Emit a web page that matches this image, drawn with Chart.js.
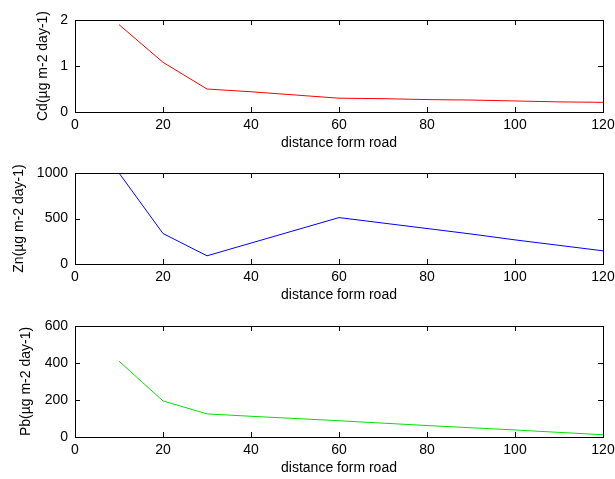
<!DOCTYPE html>
<html>
<head>
<meta charset="utf-8">
<script src="https://cdn.jsdelivr.net/npm/chart.js@4/dist/chart.umd.min.js"></script>
<style>
  html, body { margin: 0; padding: 0; background: #fff; }
  #wrap { position: relative; width: 615px; height: 479px; overflow: hidden; background: #fff; }
  .pane { position: absolute; left: 0; width: 615px; }
  canvas { display: block; }
</style>
</head>
<body>
<div id="wrap">
  <div class="pane" id="p1" style="top:0px;height:152px"><canvas id="c1"></canvas></div>
  <div class="pane" id="p2" style="top:155px;height:149px"><canvas id="c2"></canvas></div>
  <div class="pane" id="p3" style="top:304px;height:173px"><canvas id="c3"></canvas></div>
</div>
<script>
// ---- data ----
const distance = [10, 20, 30, 40, 50, 60, 70, 80, 90, 100, 110, 120];
const cdValues = [1.9, 1.08, 0.5, 0.44, 0.37, 0.3, 0.29, 0.27, 0.26, 0.24, 0.22, 0.21];
const znValues = [1000, 335, 90, 230, 370, 510, 450, 390, 330, 265, 205, 145];
const pbValues = [410, 195, 125, 112, 100, 88, 75, 62, 50, 38, 25, 12];

const xTitle = 'distance form road';
const cdTitle = 'Cd(\u00b5g m-2 day-1)';
const znTitle = 'Zn(\u00b5g m-2 day-1)';
const pbTitle = 'Pb(\u00b5g m-2 day-1)';

const xMin = 0, xMax = 120, xStep = 20;
const cdAxis = { min: 0, max: 2, step: 1 };
const znAxis = { min: 0, max: 1000, step: 500 };
const pbAxis = { min: 0, max: 600, step: 200 };

// ---- rendering ----
const FONT = { family: '"Liberation Sans", Arial, Helvetica, sans-serif', size: 14, lineHeight: 1.2 };

const matlabBox = {
  id: 'matlabBox',
  afterDraw(chart) {
    const ctx = chart.ctx;
    const a = chart.chartArea;
    const xs = chart.scales.x, ys = chart.scales.y;
    const L = 5;
    ctx.save();
    ctx.strokeStyle = '#000';
    ctx.lineWidth = 1;
    ctx.beginPath();
    xs.ticks.forEach(t => {
      const px = Math.round(xs.getPixelForValue(t.value)) + 0.5;
      ctx.moveTo(px, a.bottom); ctx.lineTo(px, a.bottom - L);
      ctx.moveTo(px, a.top); ctx.lineTo(px, a.top + L);
    });
    ys.ticks.forEach(t => {
      const py = Math.round(ys.getPixelForValue(t.value)) + 0.5;
      ctx.moveTo(a.left, py); ctx.lineTo(a.left + L, py);
      ctx.moveTo(a.right, py); ctx.lineTo(a.right - L, py);
    });
    ctx.stroke();
    ctx.strokeRect(Math.round(a.left) + 0.5, Math.round(a.top) + 0.5,
                   Math.round(a.right - a.left), Math.round(a.bottom - a.top));
    ctx.restore();
  }
};

function makeChart(id, values, color, yAxis, yTitle, padLeft, padTop) {
  const yWidth = 75 - padLeft;
  return new Chart(document.getElementById(id), {
    type: 'line',
    data: {
      datasets: [{
        data: distance.map((d, i) => ({ x: d, y: values[i] })),
        borderColor: color,
        borderWidth: 1,
        pointRadius: 0,
        tension: 0,
        fill: false
      }]
    },
    options: {
      responsive: true,
      maintainAspectRatio: false,
      animation: false,
      events: [],
      layout: { padding: { left: padLeft, top: padTop, right: 12, bottom: 0 } },
      plugins: { legend: { display: false }, tooltip: { enabled: false } },
      scales: {
        x: {
          type: 'linear', min: xMin, max: xMax,
          grid: { display: false, drawTicks: false },
          border: { display: false },
          ticks: { stepSize: xStep, color: '#000', font: FONT, padding: 5, maxRotation: 0, autoSkip: false,
                   callback: v => String(v) },
          title: { display: true, text: xTitle, color: '#000', font: FONT, padding: { top: 0, bottom: 0 } },
          afterFit(s) { s.height = 40; s.paddingLeft = 0; s.paddingRight = 0; }
        },
        y: {
          type: 'linear', min: yAxis.min, max: yAxis.max,
          grid: { display: false, drawTicks: false },
          border: { display: false },
          ticks: { stepSize: yAxis.step, color: '#000', font: FONT, padding: 7,
                   callback: v => String(v) },
          title: { display: true, text: yTitle, color: '#000', font: FONT, padding: { top: 0, bottom: 0 } },
          afterFit(s) { s.width = yWidth; s.paddingTop = 0; s.paddingBottom = 0; }
        }
      }
    },
    plugins: [matlabBox]
  });
}

makeChart('c1', cdValues, '#ff0000', cdAxis, cdTitle, 35, 20);
makeChart('c2', znValues, '#0000ff', znAxis, znTitle, 11, 18);
makeChart('c3', pbValues, '#00e000', pbAxis, pbTitle, 18, 22);
</script>
</body>
</html>
